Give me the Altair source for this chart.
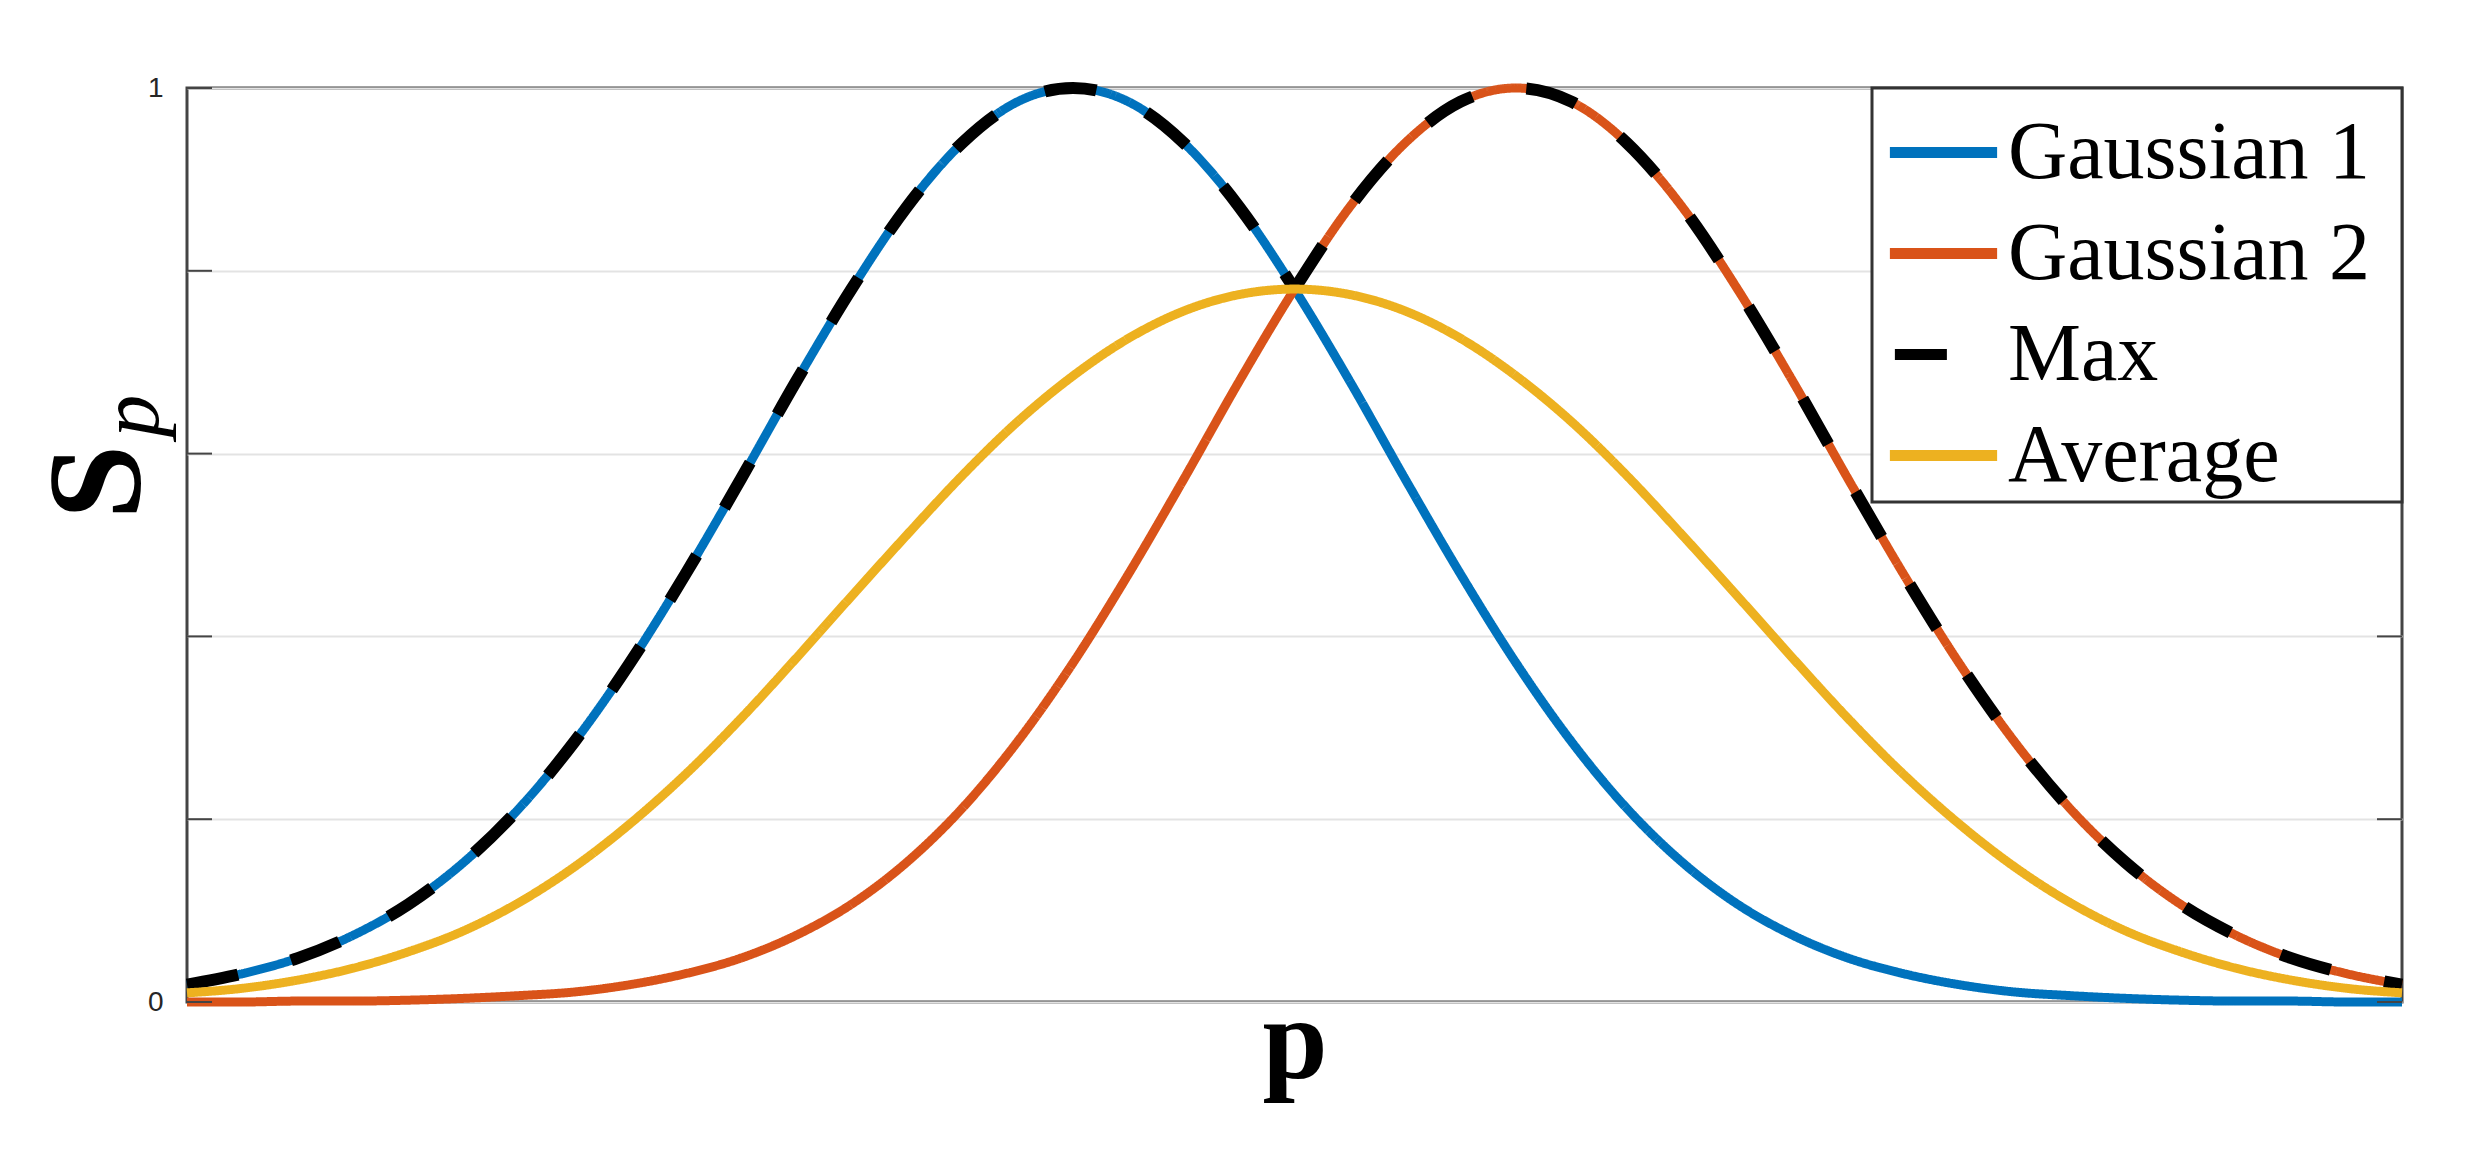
import altair as alt
import pandas as pd

# ---- data ----
P = [0.000, 0.025, 0.050, 0.075, 0.100, 0.125, 0.150, 0.175, 0.200, 0.225,
     0.250, 0.275, 0.300, 0.325, 0.350, 0.375, 0.400, 0.425, 0.450, 0.475,
     0.500, 0.525, 0.550, 0.575, 0.600, 0.625, 0.650, 0.675, 0.700, 0.725,
     0.750, 0.775, 0.800, 0.825, 0.850, 0.875, 0.900, 0.925, 0.950, 0.975, 1.000]

GAUSS1 = [0.019, 0.031, 0.048, 0.073, 0.107, 0.153, 0.212, 0.285, 0.371, 0.468,
          0.572, 0.679, 0.780, 0.870, 0.940, 0.985, 1.000, 0.985, 0.940, 0.870,
          0.780, 0.679, 0.572, 0.468, 0.371, 0.285, 0.212, 0.153, 0.107, 0.073,
          0.048, 0.031, 0.019, 0.011, 0.007, 0.004, 0.002, 0.001, 0.001, 0.000, 0.000]

GAUSS2 = [0.000, 0.000, 0.001, 0.001, 0.002, 0.004, 0.007, 0.011, 0.019, 0.031,
          0.048, 0.073, 0.107, 0.153, 0.212, 0.285, 0.371, 0.468, 0.572, 0.679,
          0.780, 0.870, 0.940, 0.985, 1.000, 0.985, 0.940, 0.870, 0.780, 0.679,
          0.572, 0.468, 0.371, 0.285, 0.212, 0.153, 0.107, 0.073, 0.048, 0.031, 0.019]

MAXV = [0.019, 0.031, 0.048, 0.073, 0.107, 0.153, 0.212, 0.285, 0.371, 0.468,
        0.572, 0.679, 0.780, 0.870, 0.940, 0.985, 1.000, 0.985, 0.940, 0.870,
        0.780, 0.870, 0.940, 0.985, 1.000, 0.985, 0.940, 0.870, 0.780, 0.679,
        0.572, 0.468, 0.371, 0.285, 0.212, 0.153, 0.107, 0.073, 0.048, 0.031, 0.019]

AVERAGE = [0.010, 0.015, 0.024, 0.037, 0.055, 0.078, 0.109, 0.148, 0.195, 0.249,
           0.310, 0.376, 0.444, 0.511, 0.576, 0.635, 0.685, 0.726, 0.756, 0.774,
           0.780, 0.774, 0.756, 0.726, 0.685, 0.635, 0.576, 0.511, 0.444, 0.376,
           0.310, 0.249, 0.195, 0.148, 0.109, 0.078, 0.055, 0.037, 0.024, 0.015, 0.010]

SERIES = ["Gaussian 1", "Gaussian 2", "Max", "Average"]
COLORS = ["#0072BD", "#D95319", "#000000", "#EDB120"]
DASHES = [[1, 0], [1, 0], [52, 55], [1, 0]]
Y_TICKS = [0, 0.2, 0.4, 0.6, 0.8, 1]
CUSP_INDEX = 20  # index of p = 0.5 where Max switches curve

W, H = 2215, 914

rows = []
for name, vals in zip(SERIES, [GAUSS1, GAUSS2, MAXV, AVERAGE]):
    for i, (p, v) in enumerate(zip(P, vals)):
        if name == "Max":
            if i <= CUSP_INDEX:
                rows.append(dict(p=p, s=v, series=name, seg="Max-a"))
            if i >= CUSP_INDEX:
                rows.append(dict(p=p, s=v, series=name, seg="Max-b"))
        else:
            rows.append(dict(p=p, s=v, series=name, seg=name))
df = pd.DataFrame(rows)

# an invisible title on the right of the entries widens the legend box
legend = alt.Legend(
    title="M", titleOrient="right", titleColor="white", titleFontSize=30,
    titlePadding=2,
    orient="top-right", offset=0, symbolType="stroke",
    symbolSize=11500, symbolStrokeWidth=11, symbolDashOffset=102, symbolOffset=7,
    labelFont="Liberation Serif", labelFontSize=82, labelColor="black",
    labelOffset=5, rowPadding=0, padding=5, strokeColor="#333333",
    fillColor="white", labelLimit=0,
)

x_enc = alt.X("p:Q", scale=alt.Scale(domain=[0, 1], nice=False, zero=False),
              axis=alt.Axis(title="p", labels=False, ticks=False, domain=False, grid=False,
                            titleFont="Liberation Serif", titleFontWeight="bold",
                            titleFontSize=117, titleBaseline="alphabetic", titleY=75,
                            titleColor="black"))
y_axis = alt.Axis(title=None, values=Y_TICKS,
                  labelExpr="datum.value == 0 ? '0' : (datum.value == 1 ? '1' : '')",
                  ticks=False, domain=False, grid=True, gridColor="#e3e3e3",
                  gridWidth=2, labelFont="Liberation Sans", labelFontSize=28,
                  labelColor="#262626", labelPadding=24)
y_scale = alt.Scale(domain=[0, 1], nice=False)
color_enc = alt.Color("series:N", scale=alt.Scale(domain=SERIES, range=COLORS),
                      sort=SERIES, legend=legend)
dash_enc = alt.StrokeDash("series:N", scale=alt.Scale(domain=SERIES, range=DASHES),
                          sort=SERIES, legend=legend)


def series_layer(names, width):
    return alt.Chart(df).transform_filter(
        alt.FieldOneOfPredicate(field="series", oneOf=names)
    ).mark_line(interpolate="monotone", strokeCap="butt", strokeWidth=width).encode(
        x=x_enc,
        y=alt.Y("s:Q", scale=y_scale, axis=y_axis),
        color=color_enc,
        strokeDash=dash_enc,
        detail="seg:N",
    )


g_layer = series_layer(["Gaussian 1", "Gaussian 2"], 9)
max_layer = series_layer(["Max"], 12)
avg_layer = series_layer(["Average"], 9)

tick_df = pd.DataFrame({"s": Y_TICKS})
left_ticks = alt.Chart(tick_df).mark_rule(color="#444444", strokeWidth=2).encode(
    y=alt.Y("s:Q", scale=y_scale, axis=y_axis), x=alt.value(0), x2=alt.value(25))
right_ticks = alt.Chart(tick_df).mark_rule(color="#444444", strokeWidth=2).encode(
    y=alt.Y("s:Q", scale=y_scale, axis=y_axis), x=alt.value(W - 25), x2=alt.value(W))

s_title = alt.Chart(pd.DataFrame({"t": ["S"]})).mark_text(
    font="Liberation Serif", fontWeight="bold", fontSize=134, angle=270,
    align="center", baseline="alphabetic", color="black").encode(
    x=alt.value(-47), y=alt.value(394), text="t:N")
p_sub = alt.Chart(pd.DataFrame({"t": ["p"]})).mark_text(
    font="Liberation Serif", fontStyle="italic", fontSize=85, angle=270,
    align="center", baseline="alphabetic", color="black").encode(
    x=alt.value(-29), y=alt.value(328), text="t:N")

chart = alt.layer(g_layer, max_layer, avg_layer, left_ticks, right_ticks,
                  s_title, p_sub).properties(
    width=W, height=H,
    autosize=alt.AutoSizeParams(type="none"),
    padding={"left": 179, "top": 80, "right": 40, "bottom": 120},
    background="white",
).configure_view(stroke="#444444", strokeWidth=3).configure_legend(strokeWidth=3)

chart.save("out.html", embed_options={"renderer": "svg", "actions": False})
